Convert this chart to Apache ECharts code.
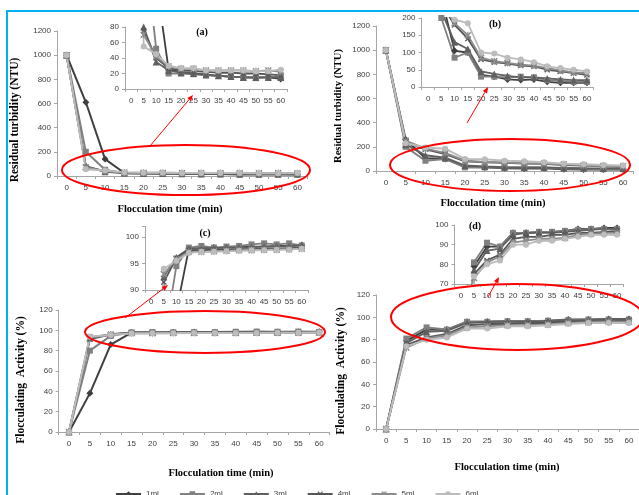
<!DOCTYPE html>
<html>
<head>
<meta charset="utf-8">
<script src="https://cdn.jsdelivr.net/npm/echarts@6/dist/echarts.min.js"></script>
<style>
  html, body { margin: 0; padding: 0; background: #fff; }
  #chart { width: 639px; height: 495px; }
</style>
</head>
<body>
<div id="chart"></div>
<script>
// Flocculation time categories
var times = ['0', '5', '10', '15', '20', '25', '30', '35', '40', '45', '50', '55', '60'];
var doses = ['1ml', '2ml', '3ml', '4ml', '5ml', '6ml'];

// (a) residual turbidity (NTU)
var turbA1 = [1000, 610, 140, 25, 22, 20, 19, 17, 16, 15, 15, 15, 13];
var turbA2 = [1000, 200, 52, 20, 20, 19, 18, 17, 16, 15, 14, 15, 17];
var turbA3 = [1000, 80, 35, 24, 21, 20, 18, 17, 16, 15, 15, 15, 15];
var turbA4 = [1000, 75, 40, 27, 24, 23, 22, 21, 21, 20, 20, 19, 18];
var turbA5 = [1000, 70, 42, 29, 26, 26, 24, 24, 24, 24, 23, 24, 22];
var turbA6 = [1000, 55, 45, 30, 27, 27, 24, 24, 24, 24, 23, 23, 25];

// (b) residual turbidity (NTU)
var turbB1 = [1000, 260, 105, 100, 35, 30, 22, 20, 22, 15, 12, 12, 12];
var turbB2 = [1000, 200, 85, 100, 30, 30, 28, 30, 28, 20, 18, 15, 15];
var turbB3 = [1000, 220, 130, 110, 45, 38, 32, 28, 28, 25, 22, 20, 20];
var turbB4 = [1000, 240, 180, 140, 80, 72, 68, 62, 60, 50, 45, 40, 35];
var turbB5 = [1000, 250, 185, 150, 85, 75, 70, 65, 62, 55, 48, 42, 40];
var turbB6 = [1000, 230, 195, 185, 100, 97, 85, 80, 72, 60, 55, 50, 45];

// (c) flocculating activity (%)
var actC1 = [0, 38, 86, 97.8, 97.9, 98, 98, 98.1, 98.2, 98.2, 98.3, 98.3, 98.5];
var actC2 = [0, 80, 94.5, 98, 98.3, 98, 98.2, 98.3, 98.6, 98.8, 98.6, 98.8, 98.4];
var actC3 = [0, 92.5, 96.2, 97.8, 97.8, 97.9, 98, 98, 98.1, 98.2, 98.2, 98.3, 98.4];
var actC4 = [0, 91.5, 96, 97.5, 97.5, 97.6, 97.6, 97.7, 97.7, 97.8, 97.8, 97.9, 98];
var actC5 = [0, 93, 95.8, 97.2, 97.2, 97.3, 97.4, 97.5, 97.5, 97.6, 97.6, 97.7, 97.8];
var actC6 = [0, 94, 95.5, 97, 97.2, 97.2, 97.3, 97.4, 97.5, 97.5, 97.6, 97.6, 97.8];

// (d) flocculating activity (%)
var actD1 = [0, 79, 89, 89, 96, 96, 96.5, 96.5, 97, 98, 98, 98.5, 98.5];
var actD2 = [0, 81, 91, 89, 96, 96, 96.5, 96.5, 97, 97.5, 98, 98, 98];
var actD3 = [0, 77, 87, 88, 95, 96, 96, 96, 96.5, 97, 97.5, 98, 98];
var actD4 = [0, 75, 82, 85, 93, 94, 94, 95, 95, 96, 96, 96.5, 97];
var actD5 = [0, 73, 81, 84, 91, 92, 93, 93, 93.5, 95, 95.5, 96, 96];
var actD6 = [0, 74, 80, 82, 90, 90, 92, 92, 93, 94, 95, 95, 95];

var colors = ['#3f3f3f', '#808080', '#5f5f5f', '#555555', '#8c8c8c', '#bcbcbc'];
var xMark = 'path://M0,1.5L1.5,0L5,3.5L8.5,0L10,1.5L6.5,5L10,8.5L8.5,10L5,6.5L1.5,10L0,8.5L3.5,5Z';
var star = xMark + 'M4.2,0L5.8,0L5.8,10L4.2,10Z';
var symbols = ['diamond', 'rect', 'triangle', xMark, star, 'circle'];
var symbolSizes = [7, 6, 7, 6, 7, 6];

var labelFont = 'Liberation Sans';
var titleFont = 'Liberation Serif';
var axisColor = '#a6a6a6';

var grids = [];
var xAxes = [];
var yAxes = [];
var series = [];

// 一个图（主图或小图）
function addChart(rect, yMin, yMax, yStep, values, lineWidth) {
  var i = grids.length;
  grids.push({ left: rect[0], top: rect[1], width: rect[2], height: rect[3] });
  xAxes.push({
    type: 'category', gridIndex: i, data: times, boundaryGap: true,
    axisLine: { lineStyle: { color: axisColor } },
    axisTick: { show: true, length: 3, lineStyle: { color: axisColor } },
    axisLabel: { interval: 0, margin: 8, fontSize: 8, color: '#404040', fontFamily: labelFont }
  });
  yAxes.push({
    type: 'value', gridIndex: i, min: yMin, max: yMax, interval: yStep,
    splitLine: { show: false },
    axisLine: { show: true, lineStyle: { color: axisColor } },
    axisTick: { show: true, length: 3, lineStyle: { color: axisColor } },
    axisLabel: {
      margin: 6, fontSize: 8, color: '#404040', fontFamily: labelFont,
      formatter: function(v) { return v % yStep === 0 ? String(v) : ''; }
    }
  });
  values.forEach(function(vals, k) {
    series.push({
      type: 'line', name: doses[k], xAxisIndex: i, yAxisIndex: i,
      data: vals, symbol: symbols[k], symbolSize: symbolSizes[k],
      showSymbol: true, clip: true, color: colors[k],
      lineStyle: { width: lineWidth, color: colors[k] },
      itemStyle: { color: colors[k] }
    });
  });
}

var dataA = [turbA1, turbA2, turbA3, turbA4, turbA5, turbA6];
var dataB = [turbB1, turbB2, turbB3, turbB4, turbB5, turbB6];
var dataC = [actC1, actC2, actC3, actC4, actC5, actC6];
var dataD = [actD1, actD2, actD3, actD4, actD5, actD6];

addChart([57, 31, 250, 145], 0, 1200, 200, dataA, 2);
addChart([125, 27, 162, 62], 0, 80, 20, dataA, 1.8);
addChart([376, 26, 257, 145], 0, 1200, 200, dataB, 2);
addChart([421.5, 18, 172, 69], 0, 200, 50, dataB, 1.8);
addChart([58.6, 310, 271, 122], 0, 120, 20, dataC, 2);
addChart([145, 226.4, 163, 63.6], 90, 102, 5, dataC, 1.8);
addChart([376, 295, 265, 134], 0, 120, 20, dataD, 2);
addChart([454.5, 225, 169, 59], 70, 100, 10, dataD, 1.8);

// 标注
function text(str, x, y, size, rotate) {
  return {
    type: 'text', x: x, y: y, rotation: rotate ? Math.PI / 2 : 0, z: 100,
    style: {
      text: str, fontFamily: titleFont, fontWeight: 'bold', fontSize: size,
      fill: '#000', align: 'center', verticalAlign: 'middle'
    }
  };
}

function ellipse(cx, cy, rx, ry) {
  return {
    type: 'ellipse', z: 100, shape: { cx: cx, cy: cy, rx: rx, ry: ry },
    style: { fill: 'none', stroke: '#ff0000', lineWidth: 2 }
  };
}

function arrow(x1, y1, x2, y2) {
  var a = Math.atan2(y2 - y1, x2 - x1);
  var len = 6, w = 2.5;
  var bx = x2 - len * Math.cos(a), by = y2 - len * Math.sin(a);
  return [{
    type: 'line', z: 100, shape: { x1: x1, y1: y1, x2: bx, y2: by },
    style: { stroke: '#ff0000', lineWidth: 1 }
  }, {
    type: 'polygon', z: 100,
    shape: { points: [[x2, y2], [bx + w * Math.sin(a), by - w * Math.cos(a)], [bx - w * Math.sin(a), by + w * Math.cos(a)]] },
    style: { fill: '#ff0000' }
  }];
}

var graphics = [
  { type: 'line', z: 100, shape: { x1: 7, y1: 11, x2: 7, y2: 495 }, style: { stroke: '#00b0f0', lineWidth: 2 } },
  { type: 'line', z: 100, shape: { x1: 6, y1: 11, x2: 639, y2: 11 }, style: { stroke: '#00b0f0', lineWidth: 2 } },
  text('Flocculation time (min)', 170, 209, 10.5),
  text('Flocculation time (min)', 493, 203, 10.5),
  text('Flocculation time (min)', 221, 473, 10.5),
  text('Flocculation time (min)', 507, 467, 10.5),
  text('Residual turbidity (NTU)', 15, 120, 11.5, true),
  text('Residual turbidity (NTU)', 338, 106, 10.5, true),
  text('Flocculating  Activity (%)', 21, 380, 11.5, true),
  text('Flocculating  Activity (%)', 341, 371, 11.5, true),
  text('(a)', 202, 32, 10),
  text('(b)', 495, 24, 10),
  text('(c)', 205, 233, 10),
  text('(d)', 475, 226, 10),
  ellipse(186, 170, 124, 25),
  ellipse(510, 165, 120, 26),
  ellipse(205, 332, 120, 21),
  ellipse(517, 317, 126, 33)
].concat(arrow(150, 146, 193, 95), arrow(467, 123, 488, 87), arrow(125, 318, 168, 285), arrow(488, 297, 499, 277));

var chart = echarts.init(document.getElementById('chart'));
chart.setOption({
  animation: false,
  backgroundColor: '#fff',
  legend: {
    data: doses, left: 110, top: 485, itemGap: 20, itemWidth: 25, itemHeight: 7,
    textStyle: { fontSize: 8, color: '#404040', fontFamily: labelFont }
  },
  grid: grids,
  xAxis: xAxes,
  yAxis: yAxes,
  series: series,
  graphic: graphics
});
</script>
</body>
</html>
